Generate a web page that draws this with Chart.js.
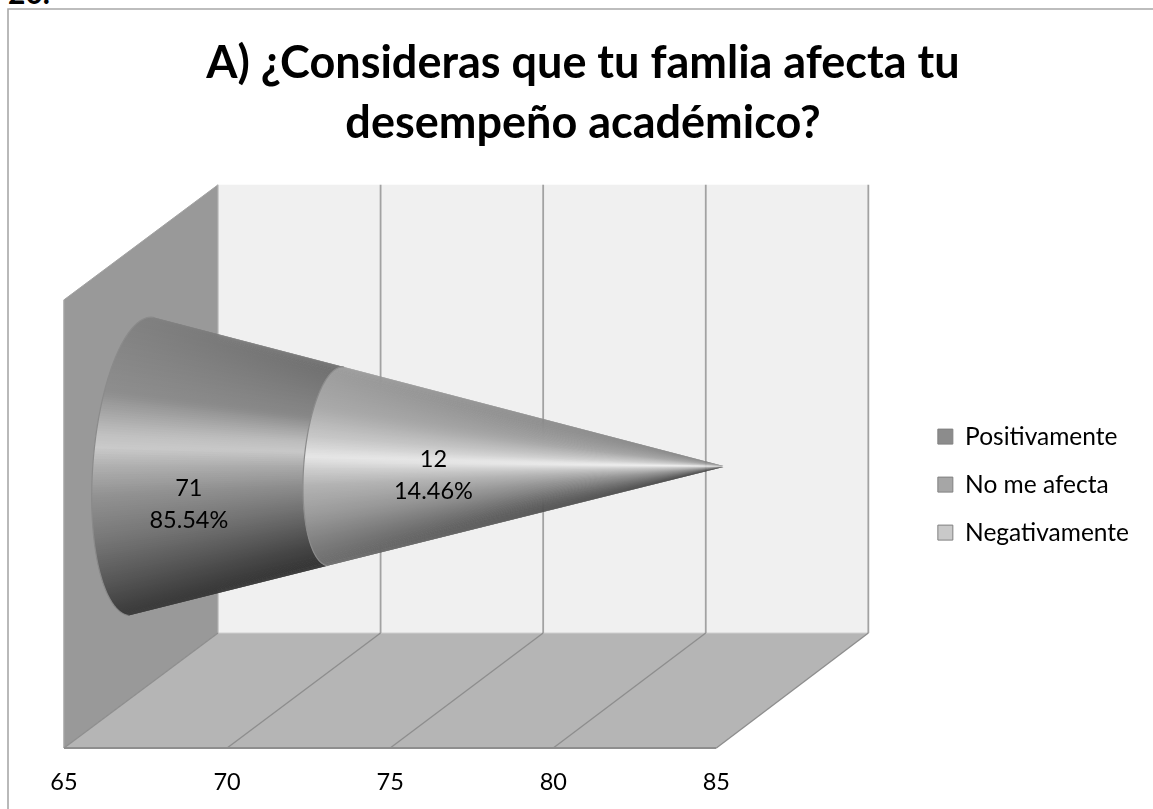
<!DOCTYPE html>
<html><head><meta charset="utf-8">
<style>
html,body{margin:0;padding:0;background:#fff;overflow:hidden;width:1153px;height:809px}
#c{position:absolute;left:0;top:0;display:block}
#stub{position:absolute;left:8px;top:-23px;font:bold 30px Lato,sans-serif;color:#000;line-height:30px}
</style></head><body>
<div id="stub">20.</div>
<canvas id="c" width="1166" height="809"></canvas>
<script src="https://cdn.jsdelivr.net/npm/chart.js@4"></script>
<script>
const titleLines = ['A) ¿Consideras que tu famlia afecta tu','desempeño académico?'];
const categories = ['Respuestas'];
const seriesNames = ['Positivamente','No me afecta','Negativamente'];
const seriesValues = [71,0,12];
const seriesColors = ['#8c8c8c','#a6a6a6','#c9c9c9'];
const axisMin = 65, axisMax = 85, axisStep = 5;

const FONT = 'Lato';
const depth = {dx:154, dy:-115, backShrink:2/651};
const labelShift = [[27,-35],[0,0],[-22,-64]];
const shades = [
 [[[-1,128],[-.5,142],[-.22,192],[-.13,202],[0,176],[.2,146],[.5,119],[.8,85],[1,58]],
  [[-1,110],[-.5,135],[-.25,188],[-.15,200],[0,170],[.2,140],[.5,105],[.8,70],[1,50]]],
 [],
 [[[-1,155],[-.6,170],[-.3,200],[-.1,230],[.03,205],[.2,178],[.5,155],[.75,130],[1,108]],
  [[-1,120],[-.5,160],[-.2,205],[-.05,242],[.1,200],[.4,140],[.7,95],[1,50]]]
];

function shade(stops,t){
  for(let i=1;i<stops.length;i++){
    if(t<=stops[i][0]){
      const a=stops[i-1],b=stops[i],k=Math.max(0,(t-a[0])/(b[0]-a[0]));
      const g=Math.round(a[1]+(b[1]-a[1])*k);
      return `rgb(${g},${g},${g})`;
    }
  }
  const g=stops[stops.length-1][1];return `rgb(${g},${g},${g})`;
}

const scene = {
  id:'scene',
  beforeDraw(chart){
    const c=chart.ctx;
    c.save();c.strokeStyle='#a8a8a8';c.lineWidth=1.6;
    c.beginPath();c.moveTo(8,810);c.lineTo(8,9);c.lineTo(1170,9);c.stroke();c.restore();
  },
  beforeDatasetsDraw(chart){
    const c=chart.ctx,x=chart.scales.x,a=chart.chartArea;
    const back=v=>x.getPixelForValue(v)+depth.dx-(x.getPixelForValue(v)-x.left)*depth.backShrink;
    const poly=(pts,fill)=>{c.beginPath();pts.forEach((p,i)=>i?c.lineTo(p[0],p[1]):c.moveTo(p[0],p[1]));c.closePath();c.fillStyle=fill;c.fill();};
    const line=(x0,y0,x1,y1,col,w)=>{c.strokeStyle=col;c.lineWidth=w;c.beginPath();c.moveTo(x0,y0);c.lineTo(x1,y1);c.stroke();};
    const T=a.top+depth.dy,BB=a.bottom+depth.dy,B=a.bottom,L=x.left,R=x.right;
    const bL=back(axisMin),bR=back(axisMax);
    c.save();
    poly([[bL,T],[bR,T],[bR,BB],[bL,BB]],'#f0f0f0');
    poly([[L,a.top],[bL,T],[bL,BB],[L,B]],'#999999');
    poly([[L,B],[R,B],[bR,BB],[bL,BB]],'#b5b5b5');
    line(bL,BB,bR,BB,'#cfcfcf',1.2);
    line(L,a.top,bL,T,'#a3a3a3',1);
    line(L,a.top,L,B,'#a3a3a3',1.5);
    line(bL,T,bL,BB,'#b5b5b5',1.2);
    x.ticks.forEach(t=>{
      const v=t.value;
      if(v>axisMin) line(back(v),T,back(v),BB,'#a2a2a2',1.8);
      line(x.getPixelForValue(v),B,back(v),BB,'#8e8e8e',1.4);
    });
    line(L,B,R,B,'#8e8e8e',1.8);
    c.restore();
  },
  beforeDatasetDraw(){ return false; },
  afterDatasetsDraw(chart){
    const c=chart.ctx,x=chart.scales.x;
    const base=chart.getDatasetMeta(0).data[0];
    const r0=base.height/2;
    const cy=base.y+depth.dy/2;
    const taper=0.9955;
    const cx=v=>x.left+depth.dx/2+(x.getPixelForValue(v)-x.left)*taper;
    const total=seriesValues.reduce((s,v)=>s+v,0);
    const rad=v=>r0*(total-v)/(total-axisMin);
    const N=180;
    const pt=(phi,v)=>{
      const r=rad(v),cs=Math.cos(phi),sn=Math.sin(phi);
      return [cx(v)+r*(-0.32*cs+0.084*sn), cy+r*(-0.05*cs-sn)];
    };
    let start=axisMin,cum=0;
    c.save();
    seriesValues.forEach((val,i)=>{
      cum+=val;
      const end=cum;
      if(val>0){
        for(let k=0;k<N;k++){
          const p0=Math.PI/2-Math.PI*k/N,p1=Math.PI/2-Math.PI*Math.min(k+2,N)/N,pm=Math.PI/2-Math.PI*(k+.5)/N;
          const A=pt(p0,start),B=pt(p1,start),C=pt(p1,end),D=pt(p0,end);
          const M0=pt(pm,start),M1=pt(pm,end);
          const t=(M0[1]-cy)/rad(start);
          const g=c.createLinearGradient(M0[0],M0[1],M1[0],M1[1]);
          g.addColorStop(0,shade(shades[i][0],t));
          g.addColorStop(1,shade(shades[i][1],t));
          c.fillStyle=g;
          c.beginPath();c.moveTo(A[0],A[1]);c.lineTo(B[0],B[1]);c.lineTo(C[0],C[1]);c.lineTo(D[0],D[1]);c.closePath();c.fill();
        }
        c.strokeStyle='#8b8b8b';c.lineWidth=1.2;
        c.beginPath();
        for(let k=0;k<=N;k++){const p=pt(Math.PI/2-Math.PI*k/N,start);k?c.lineTo(p[0],p[1]):c.moveTo(p[0],p[1]);}
        c.stroke();
        start=end;
      }
    });
    /* value labels */
    c.fillStyle='#000';c.font=`23.5px ${FONT}`;c.textAlign='center';c.textBaseline='middle';
    let low=axisMin,sum=0;
    seriesValues.forEach((val,i)=>{
      sum+=val;
      if(val>0){
        const px=(x.getPixelForValue(low)+x.getPixelForValue(sum))/2+labelShift[i][0];
        const py=base.y+labelShift[i][1];
        c.fillText(String(val),px,py);
        c.fillText((val/total*100).toFixed(2)+'%',px,py+32);
        low=sum;
      }
    });
    c.restore();
  }
};

new Chart(document.getElementById('c'),{
  type:'bar',
  data:{labels:categories,datasets:seriesNames.map((n,i)=>({
    label:n,data:[seriesValues[i]],backgroundColor:seriesColors[i],borderColor:'#808080',borderWidth:1,
    barPercentage:.665,categoryPercentage:1
  }))},
  plugins:[scene],
  options:{
    indexAxis:'y',responsive:false,animation:false,
    layout:{padding:{left:27,right:27,top:0,bottom:0}},
    scales:{
      x:{type:'linear',stacked:true,min:axisMin,max:axisMax,
        grid:{display:false},border:{display:false},
        ticks:{stepSize:axisStep,color:'#000',font:{family:FONT,size:23.5},padding:12,maxRotation:0,autoSkip:false},
        afterFit(s){s.height=61;}},
      y:{type:'category',stacked:true,position:'left',
        grid:{display:false},border:{display:false},ticks:{display:false},
        afterFit(s){s.width=37;}},
      y2:{type:'linear',position:'right',
        grid:{display:false},border:{display:false},ticks:{display:false},
        afterFit(s){s.width=198;}}
    },
    plugins:{
      tooltip:{enabled:false},
      title:{display:true,text:titleLines,color:'#000',
        font:{family:FONT,size:45,weight:'bold',lineHeight:1.32},
        padding:{top:34,bottom:147}},
      legend:{position:'right',align:'center',maxWidth:320,
        title:{display:true,text:'',font:{size:1},padding:{top:159,bottom:0}},
        labels:{color:'#000',boxWidth:15,boxHeight:15,padding:23.5,font:{family:FONT,size:24.5}}}
    }
  }
});
</script>
</body></html>
